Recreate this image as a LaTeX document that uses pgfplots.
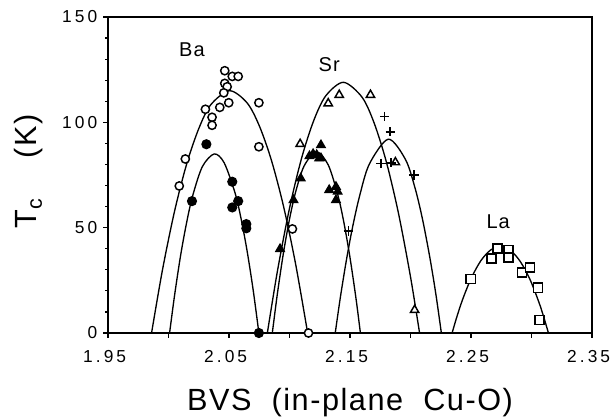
\documentclass[border=0pt]{standalone}
\usepackage{fontspec}
\setmainfont{Liberation Sans}
\setsansfont{Liberation Sans}
\newfontfamily\lsfont[LetterSpace=5]{Liberation Sans}
\usepackage{pgfplots}
\pgfplotsset{compat=1.18}

% letter spacing inside tick labels
\newcommand{\g}{\kern2.3pt}

\begin{document}
\begin{tikzpicture}
\path[use as bounding box] (0,0) rectangle (457.5pt,313.5pt);
\begin{axis}[
    at={(81pt,63.75pt)},
    anchor=south west,
    scale only axis,
    width=363pt,
    height=237pt,
    xmin=1.95, xmax=2.35,
    ymin=0, ymax=150,
    clip=false,
    axis line style={line width=1.3pt},
    tick align=outside,
    tick pos=left,
    major tick length=3.5pt,
    minor tick length=2pt,
    tick style={line width=0.9pt, black},
    xtick={1.95,2.00,2.05,2.10,2.15,2.20,2.25,2.30,2.35},
    xticklabels={1\g.\g9\g5,{},2\g.\g0\g5,{},2\g.\g1\g5,{},2\g.\g2\g5,{},2\g.\g3\g5},
    ytick={0,50,100,150},
    yticklabels={0,5\g0,1\g0\g0,1\g5\g0},
    minor ytick={10,20,30,40,60,70,80,90,110,120,130,140},
    tick label style={font=\fontsize{13}{15}\selectfont},
    xticklabel style={yshift=-6pt, xshift=-2.5pt},
    yticklabel style={xshift=-1pt},
    xlabel={\lsfont\fontsize{23}{26}\selectfont BVS\ \ (in-plane\ \ Cu-O)},
    xlabel style={at={(axis description cs:0.5,-0.2437)}, anchor=base},
    ylabel={\lsfont\fontsize{23}{26}\selectfont T\textsubscript{c}\hspace{30pt}(K)},
    ylabel style={at={(axis description cs:-0.1467,0.511)}, anchor=base},
    every axis plot/.append style={line width=1pt, black},
]
% fitted curves
\addplot[smooth, no markers] coordinates {
 (1.986,0) (1.995,29.9) (2.005,57.8) (2.015,80.2) (2.025,97.0) (2.035,108.4)
 (2.0505,115) (2.065,109.2) (2.075,98.4) (2.085,82.1) (2.095,60.3) (2.105,32.9) (2.115,0)};
\addplot[smooth, no markers] coordinates {
 (2.0009,0) (2.005,17.8) (2.010,36.8) (2.015,52.5) (2.020,65.2) (2.028,79.0)
 (2.0378,85) (2.046,80.8) (2.055,66.5) (2.060,54.2) (2.065,38.8) (2.070,20.3) (2.0747,0)};
\addplot[smooth, no markers] coordinates {
 (2.0817,0) (2.090,29.3) (2.100,59.2) (2.110,83.0) (2.120,100.8) (2.130,112.6)
 (2.1446,119) (2.160,111.9) (2.170,99.6) (2.180,81.3) (2.190,57.0) (2.200,26.7) (2.2075,0)};
\addplot[smooth, no markers] coordinates {
 (2.0858,0) (2.090,18.7) (2.095,38.0) (2.100,54.0) (2.105,66.8) (2.112,79.2)
 (2.1222,86) (2.132,79.8) (2.140,65.4) (2.145,52.3) (2.150,35.8) (2.155,16.2) (2.1586,0)};
\addplot[smooth, no markers] coordinates {
 (2.1378,0) (2.142,16.8) (2.147,34.5) (2.152,49.9) (2.158,65.2) (2.166,80.2)
 (2.1817,92) (2.196,82.2) (2.204,68.3) (2.210,53.8) (2.216,35.8) (2.221,18.3) (2.2255,0)};
\addplot[smooth, no markers] coordinates {
 (2.2344,0) (2.238,7.1) (2.243,15.8) (2.250,25.8) (2.258,34.2) (2.266,39.3)
 (2.2742,41) (2.283,39.0) (2.291,33.7) (2.299,25.1) (2.306,14.8) (2.310,7.8) (2.314,0)};
% Ba open circles
\addplot[only marks, mark=*, mark size=3.1pt, mark options={fill=white, line width=1.1pt}] coordinates {
 (2.0465,124.5) (2.0527,121.8) (2.0576,121.8) (2.0465,118.5) (2.0485,116.9) (2.0457,114.0)
 (2.0498,109.3) (2.0424,107.1) (2.0305,106.2) (2.036,102.4) (2.036,98.6) (2.0747,109.3)
 (2.0747,88.4) (2.0139,82.6) (2.0089,69.8) (2.1024,49.4) (2.1157,0)};
% Ba filled circles
\addplot[only marks, mark=*, mark size=3.3pt, mark options={fill=black}] coordinates {
 (2.0313,89.6) (2.0194,62.6) (2.0527,71.8) (2.0576,62.6) (2.0527,59.6) (2.0643,51.7)
 (2.0643,49.7) (2.0747,0)};
% Sr open triangles
\addplot[only marks, mark=triangle*, mark size=3.6pt, mark options={fill=white, line width=1.1pt}] coordinates {
 (2.1411,113.0) (2.1669,113.0) (2.132,109.0) (2.1088,89.7) (2.2034,10.9) (2.1875,81.0)};
% Sr filled triangles
\addplot[only marks, mark=triangle*, mark size=3.6pt, mark options={fill=black}] coordinates {
 (2.126,89.2) (2.1165,84.0) (2.1195,85.0) (2.1225,84.5) (2.126,83.0) (2.1245,82.9)
 (2.1093,73.4) (2.1033,63.1) (2.0922,39.9) (2.1328,67.9) (2.1384,69.4) (2.1398,67.1)
 (2.1384,63.1)};
% plus markers
\addplot[only marks, mark=+, mark size=3.5pt, mark options={line width=1.1pt}] coordinates {
 (2.1785,102.7) (2.1832,95.5) (2.1757,80.5) (2.184,80.8) (2.2029,75.0) (2.1486,48.4)};
% La squares
\addplot[only marks, mark=square*, mark size=3.4pt, mark options={fill=white, line width=1.1pt}] coordinates {
 (2.2498,25.6) (2.267,35.4) (2.272,40.2) (2.2809,39.4) (2.2809,35.9) (2.292,28.8)
 (2.2988,31.0) (2.3052,21.5) (2.3066,6.2)};
\node[font=\lsfont\fontsize{15}{17}\selectfont] at (axis cs:2.0194,134.3) {Ba};
\node[font=\lsfont\fontsize{15}{17}\selectfont] at (axis cs:2.1328,127.2) {Sr};
\node[font=\lsfont\fontsize{15}{17}\selectfont] at (axis cs:2.2725,52.8) {La};
\end{axis}
\end{tikzpicture}
\end{document}
